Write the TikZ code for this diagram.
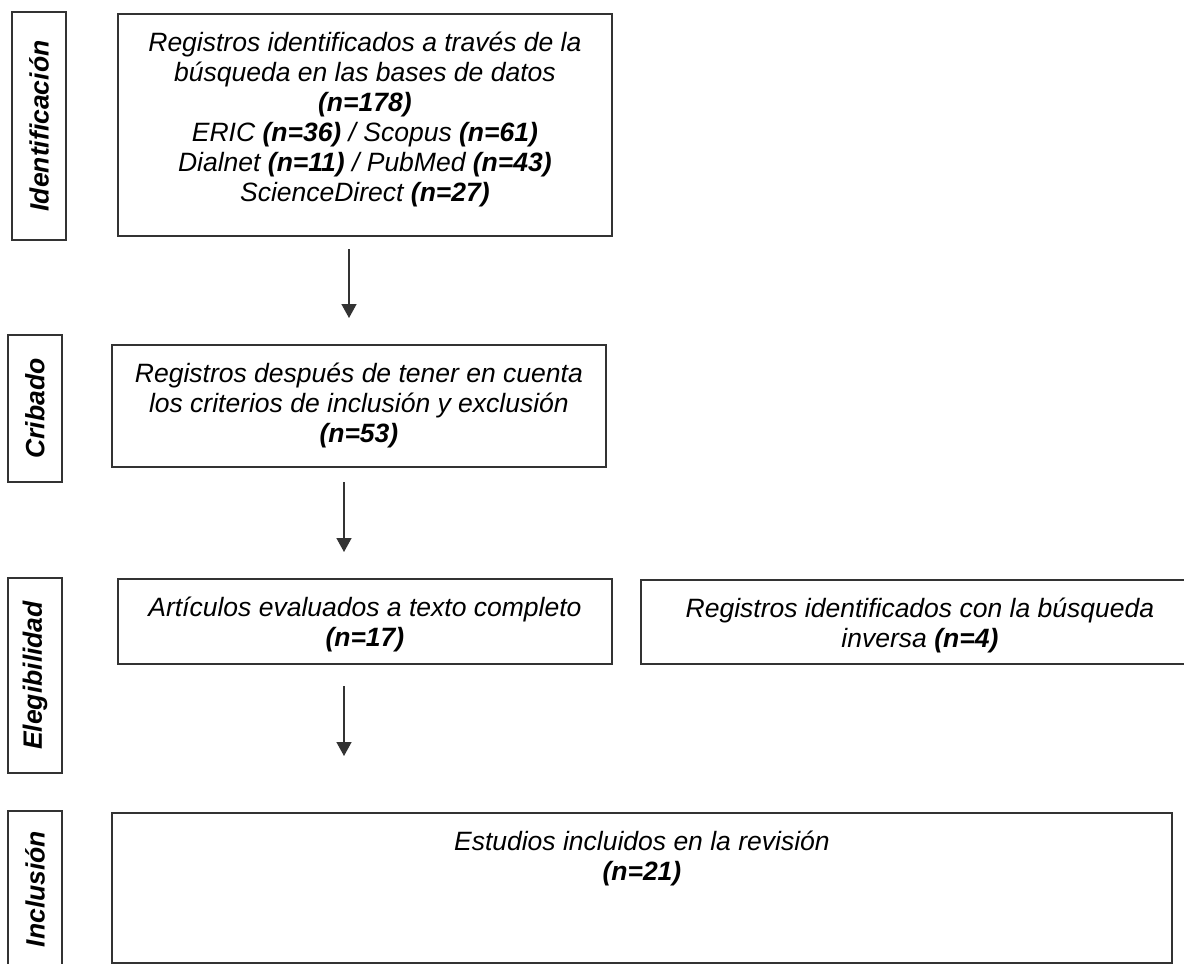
\documentclass[tikz,border=0pt]{standalone}
\usepackage{fontspec}
\setmainfont{Liberation Sans}
\usetikzlibrary{arrows.meta}
\definecolor{ln}{RGB}{51,51,51}
\begin{document}
\begin{tikzpicture}[x=1pt,y=-1pt,
  box/.style={draw=ln, line width=1.8pt, rectangle, inner sep=0pt, anchor=north west},
  lab/.style={draw=ln, line width=1.8pt, rectangle, inner sep=0pt, rotate=90,
    minimum height=54pt, font=\fontsize{26.5}{30}\selectfont\bfseries\itshape},
  txt/.style={anchor=north, inner sep=0pt, align=center,
    font=\fontsize{26.5}{30}\selectfont\itshape},
  arr/.style={draw=ln, line width=1.5pt, -{Triangle[width=15pt,length=14pt]}}]
\useasboundingbox (0,0) rectangle (1184,964);
\newcommand{\nb}[1]{\textbf{#1}}
\newcommand{\st}{\rule{0pt}{22pt}}
% phase labels
\node[lab, minimum width=228pt] (l1) at (39,126) {Identificación};
\node[lab, minimum width=147pt] (l2) at (35,408.5) {Cribado};
\node[lab, minimum width=195pt] (l3) at (35,675.5) {Elegibilidad};
\node[lab, minimum width=156pt] (l4) at (35,889) {Inclusión};
% boxes
\node[box, minimum width=494pt, minimum height=222pt] (b1) at (117,13) {};
\node[box, minimum width=494pt, minimum height=122pt] (b2) at (111,344) {};
\node[box, minimum width=494pt, minimum height=85pt] (b3) at (117,578) {};
\node[box, minimum width=558pt, minimum height=84pt] (b4) at (640,579) {};
\node[box, minimum width=1060pt, minimum height=150pt] (b5) at (111,812) {};
% texts
\node[txt] (t1) at ([yshift=-16pt]b1.north) {\st Registros identificados a través de la\\
  búsqueda en las bases de datos\\ \nb{(n=178)}\\
  ERIC \nb{(n=36)} / Scopus \nb{(n=61)}\\
  Dialnet \nb{(n=11)} / PubMed \nb{(n=43)}\\
  ScienceDirect \nb{(n=27)}};
\node[txt] (t2) at ([yshift=-16pt]b2.north) {\st Registros después de tener en cuenta\\
  los criterios de inclusión y exclusión\\ \nb{(n=53)}};
\node[txt] (t3) at ([yshift=-16pt]b3.north) {\st Artículos evaluados a texto completo\\ \nb{(n=17)}};
\node[txt] (t4) at ([yshift=-16pt]b4.north) {\st Registros identificados con la búsqueda\\ inversa \nb{(n=4)}};
\node[txt] (t5) at ([yshift=-16pt]b5.north) {\st Estudios incluidos en la revisión\\ \nb{(n=21)}};
% arrows
\coordinate (a1s) at (349,249); \coordinate (a1e) at (349,318);
\coordinate (a2s) at (344,482); \coordinate (a2e) at (344,552);
\coordinate (a3s) at (344,686); \coordinate (a3e) at (344,756);
\draw[arr] (a1s) -- (a1e);
\draw[arr] (a2s) -- (a2e);
\draw[arr] (a3s) -- (a3e);
\end{tikzpicture}
\end{document}
